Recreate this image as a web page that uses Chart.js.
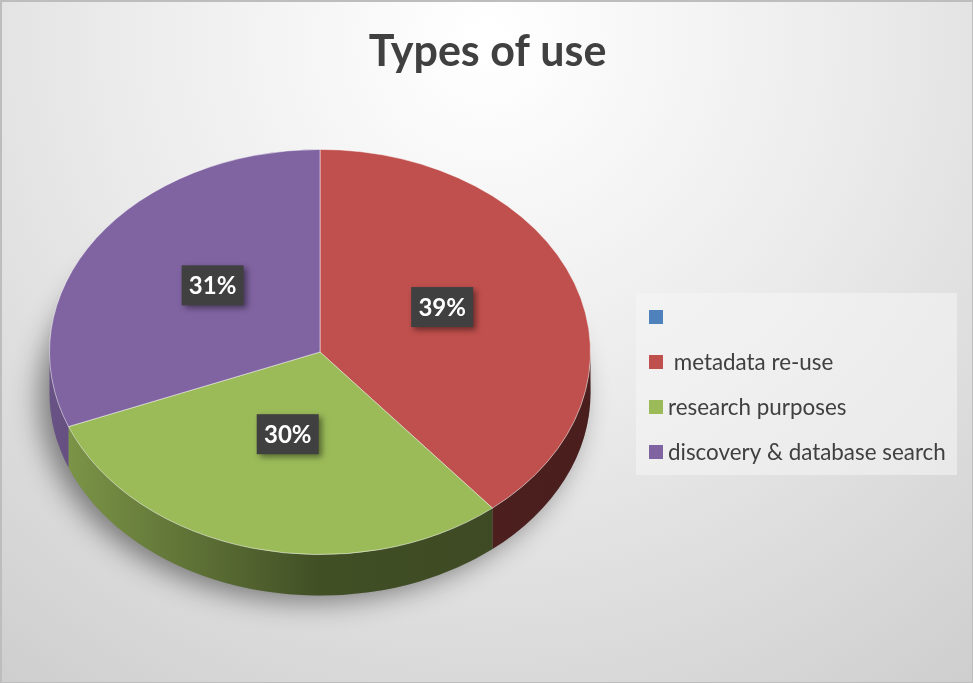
<!DOCTYPE html>
<html>
<head>
<meta charset="utf-8">
<script src="https://cdn.jsdelivr.net/npm/chart.js@4.4.1/dist/chart.umd.min.js"></script>
<style>
  html, body { margin: 0; padding: 0; background: #ffffff; }
  #wrap { position: relative; width: 973px; height: 683px; }
</style>
</head>
<body>
<div id="wrap"><canvas id="usePie"></canvas></div>
<script>
  // data
  const chartTitle = 'Types of use';
  const categories = ['', ' metadata re-use', 'research purposes', 'discovery & database search'];
  const usePercent = [0, 39, 30, 31];
  const sliceColors = ['#4F81BD', '#C0504D', '#9BBB59', '#8064A2'];

  const TILT = 0.749;   // vertical squash of the pie top
  const DEPTH = 41;     // thickness of the pie edge in px

  function shade(hex, f) {
    const n = parseInt(hex.slice(1), 16);
    const r = Math.round(((n >> 16) & 255) * f);
    const g = Math.round(((n >> 8) & 255) * f);
    const b = Math.round((n & 255) * f);
    return `rgb(${r},${g},${b})`;
  }

  const pie3d = {
    id: 'pie3d',
    beforeDraw(chart) {
      const { ctx, width, height } = chart;
      ctx.save();
      const bg = ctx.createRadialGradient(width / 2, 40, 10, width / 2, 40, 820);
      bg.addColorStop(0, '#ffffff');
      bg.addColorStop(0.45, '#ebebeb');
      bg.addColorStop(1, '#cdcdcd');
      ctx.fillStyle = bg;
      ctx.fillRect(0, 0, width, height);
      ctx.strokeStyle = '#bdbdbd';
      ctx.lineWidth = 2;
      ctx.strokeRect(1, 1, width - 1, height - 1);

      // title, centred on the whole canvas
      ctx.fillStyle = '#404040';
      ctx.font = 'bold 43px Lato';
      ctx.textAlign = 'center';
      ctx.textBaseline = 'alphabetic';
      ctx.fillText(chartTitle, width / 2 + 1, 66);
      ctx.restore();
    },
    beforeDatasetsDraw(chart) {
      const ctx = chart.ctx;
      const meta = chart.getDatasetMeta(0);
      const first = meta.data[0];
      const cx = first.x, cy = first.y, R = first.outerRadius;
      const ry = R * TILT;

      // soft shadow under the pie
      ctx.save();
      ctx.shadowColor = 'rgba(0,0,0,0.45)';
      ctx.shadowBlur = 28;
      ctx.shadowOffsetX = -10;
      ctx.shadowOffsetY = 6;
      ctx.fillStyle = '#888';
      ctx.beginPath();
      ctx.ellipse(cx, cy + DEPTH, R, ry, 0, 0, Math.PI * 2);
      ctx.fill();
      ctx.restore();

      // front edge of each slice
      meta.data.forEach((arc, i) => {
        let a1 = Math.max(arc.startAngle, 0);
        let a2 = Math.min(arc.endAngle, Math.PI);
        if (a2 <= a1) return;
        const col = sliceColors[i];
        const grad = ctx.createLinearGradient(cx - R, 0, cx + R, 0);
        grad.addColorStop(0, shade(col, 0.82));
        grad.addColorStop(0.5, shade(col, 0.42));
        grad.addColorStop(1, shade(col, 0.38));
        ctx.save();
        ctx.fillStyle = grad;
        ctx.beginPath();
        ctx.ellipse(cx, cy, R, ry, 0, a1, a2);
        ctx.ellipse(cx, cy + DEPTH, R, ry, 0, a2, a1, true);
        ctx.closePath();
        ctx.fill();
        ctx.restore();
      });

      // squash the top face drawn by Chart.js
      ctx.save();
      ctx.translate(cx, cy);
      ctx.scale(1, TILT);
      ctx.translate(-cx, -cy);
    },
    afterDatasetsDraw(chart) {
      const ctx = chart.ctx;
      ctx.restore();

      const meta = chart.getDatasetMeta(0);
      const values = chart.data.datasets[0].data;
      const total = values.reduce((s, v) => s + v, 0);
      meta.data.forEach((arc, i) => {
        if (!values[i]) return;
        const mid = (arc.startAngle + arc.endAngle) / 2;
        const rr = arc.outerRadius * 0.48;
        const x = arc.x + Math.cos(mid) * rr;
        const y = arc.y + Math.sin(mid) * rr * TILT - 12;
        const txt = Math.round(values[i] / total * 100) + '%';
        ctx.save();
        ctx.shadowColor = 'rgba(0,0,0,0.45)';
        ctx.shadowBlur = 6;
        ctx.shadowOffsetX = 3;
        ctx.shadowOffsetY = 3;
        ctx.fillStyle = '#404040';
        ctx.fillRect(x - 31, y - 20, 62, 40);
        ctx.restore();
        ctx.save();
        ctx.fillStyle = '#ffffff';
        ctx.font = 'bold 24px Lato';
        ctx.textAlign = 'center';
        ctx.textBaseline = 'middle';
        ctx.fillText(txt, x, y + 1);
        ctx.restore();
      });
    },
    afterDraw(chart) {
      // legend box on the right
      const ctx = chart.ctx;
      const left = 636, top = 293, w = 321, h = 182;
      ctx.save();
      ctx.fillStyle = 'rgba(245,245,245,0.55)';
      ctx.fillRect(left, top, w, h);
      ctx.font = '22.4px Lato';
      ctx.textBaseline = 'middle';
      ctx.textAlign = 'left';
      chart.data.labels.forEach((lab, i) => {
        const y = top + 24 + i * 45;
        ctx.fillStyle = chart.data.datasets[0].backgroundColor[i];
        ctx.fillRect(left + 13, y - 7, 14, 14);
        ctx.fillStyle = '#404040';
        ctx.fillText(lab, left + 32, y + 1);
      });
      ctx.restore();
    }
  };

  new Chart(document.getElementById('usePie'), {
    type: 'pie',
    data: {
      labels: categories,
      datasets: [{
        data: usePercent,
        backgroundColor: sliceColors,
        borderColor: 'rgba(255,255,255,0.55)',
        borderWidth: 1
      }]
    },
    options: {
      responsive: true,
      maintainAspectRatio: false,
      animation: false,
      events: [],
      layout: { padding: { left: 49, right: 382, top: 81, bottom: 60 } },
      plugins: {
        legend: { display: false },
        tooltip: { enabled: false },
        title: { display: false }
      }
    },
    plugins: [pie3d]
  });
</script>
</body>
</html>
